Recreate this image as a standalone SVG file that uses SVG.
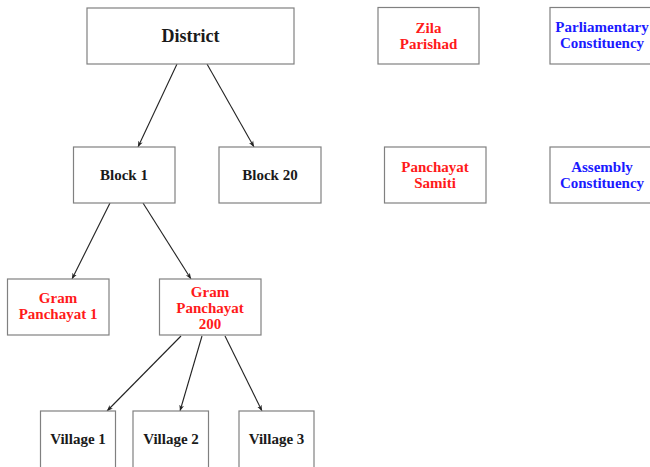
<svg xmlns="http://www.w3.org/2000/svg" width="650" height="467" viewBox="0 0 650 467">
<defs>
<marker id="ah" viewBox="0 0 10 10" refX="10" refY="5" markerWidth="6" markerHeight="6" orient="auto" markerUnits="userSpaceOnUse">
<path d="M0,1 L10,5 L0,9 L3,5 Z" fill="#222"/>
</marker>
</defs>
<style>
rect{fill:#fff;stroke:#808080;stroke-width:1.2}
text{font-family:"Liberation Serif","Times New Roman",serif;font-weight:bold;font-size:15px;text-anchor:middle}
.k{fill:#1a1a1a}
.r{fill:#ff1a1a}
.b{fill:#1a1aff}
.big{font-size:18px}
.c line{stroke:#222;stroke-width:1.1;marker-end:url(#ah)}
</style>
<rect x="0" y="0" width="650" height="467" style="stroke:none;fill:#fff"/>
<g class="c" id="connectors">
<line x1="177" y1="64" x2="138" y2="147"/>
<line x1="207" y1="64" x2="254" y2="147"/>
<line x1="110" y1="203" x2="72" y2="279"/>
<line x1="143" y1="203" x2="191" y2="279"/>
<line x1="181" y1="336" x2="107" y2="411"/>
<line x1="202" y1="336" x2="180" y2="411"/>
<line x1="225" y1="336" x2="262" y2="411"/>
</g>
<g id="district"><rect x="87" y="8" width="207" height="56"/><text class="k big" x="190.5" y="42">District</text></g>
<g id="block1"><rect x="73.5" y="147" width="101.5" height="56"/><text class="k" x="124" y="180">Block 1</text></g>
<g id="block20"><rect x="219" y="147" width="102" height="56"/><text class="k" x="270" y="180">Block 20</text></g>
<g id="zila"><rect x="378" y="7.5" width="101" height="56.5"/><text class="r" x="428.5" y="33">Zila</text><text class="r" x="428.5" y="49">Parishad</text></g>
<g id="parliamentary"><rect x="550" y="7.5" width="110" height="56.5"/><text class="b" x="602" y="31.5">Parliamentary</text><text class="b" x="602" y="47.5">Constituency</text></g>
<g id="samiti"><rect x="384.5" y="147" width="101.5" height="56"/><text class="r" x="435" y="172">Panchayat</text><text class="r" x="435" y="188">Samiti</text></g>
<g id="assembly"><rect x="550" y="147" width="110" height="56"/><text class="b" x="602" y="171.5">Assembly</text><text class="b" x="602" y="187.5">Constituency</text></g>
<g id="gp1"><rect x="7.5" y="279" width="101.5" height="56"/><text class="r" x="58" y="303">Gram</text><text class="r" x="58" y="319">Panchayat 1</text></g>
<g id="gp200"><rect x="159.5" y="279" width="101.5" height="56"/><text class="r" x="210" y="297">Gram</text><text class="r" x="210" y="313">Panchayat</text><text class="r" x="210" y="329">200</text></g>
<g id="village1"><rect x="40.5" y="411" width="75" height="70"/><text class="k" x="78" y="444">Village 1</text></g>
<g id="village2"><rect x="133" y="411" width="75.5" height="70"/><text class="k" x="171" y="444">Village 2</text></g>
<g id="village3"><rect x="239" y="411" width="75" height="70"/><text class="k" x="276.5" y="444">Village 3</text></g>
</svg>
